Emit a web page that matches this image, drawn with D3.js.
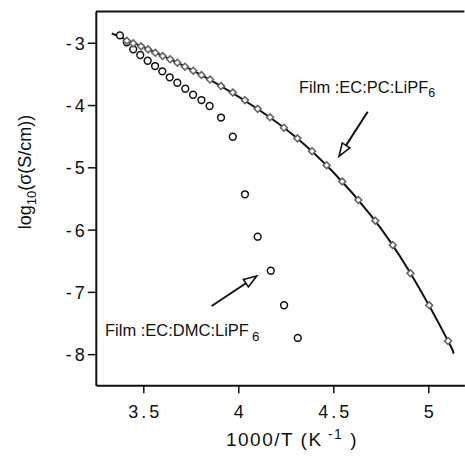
<!DOCTYPE html>
<html>
<head>
<meta charset="utf-8">
<script src="https://cdn.jsdelivr.net/npm/d3@7"></script>
<style>
  body { margin: 0; background: #fff; }
  text { font-family: "Liberation Sans", Arial, sans-serif; fill: #111; }
</style>
</head>
<body>
<div id="chart"></div>
<script>
// data: x = 1000/T, y = log10(sigma)
var pcX = [3.413, 3.447, 3.488, 3.525, 3.563, 3.602, 3.641, 3.679, 3.719, 3.763, 3.806, 3.851,
  3.909, 3.971, 4.035, 4.102, 4.167, 4.240, 4.311, 4.388, 4.465, 4.547, 4.632, 4.721, 4.813,
  4.906, 5.005, 5.104];
var pcY = [-2.968, -3.010, -3.058, -3.106, -3.161, -3.213, -3.266, -3.321, -3.385, -3.449, -3.518, -3.591,
  -3.695, -3.799, -3.923, -4.061, -4.197, -4.364, -4.535, -4.742, -4.966, -5.228, -5.525, -5.857, -6.250,
  -6.701, -7.215, -7.788];

var dmcX = [3.377, 3.413, 3.447, 3.484, 3.523, 3.562, 3.600, 3.639, 3.679, 3.721, 3.762, 3.806,
  3.849, 3.909, 3.971, 4.035, 4.102, 4.171, 4.241, 4.313];
var dmcY = [-2.881, -2.994, -3.106, -3.197, -3.289, -3.374, -3.459, -3.555, -3.642, -3.738, -3.835, -3.920,
  -4.016, -4.201, -4.509, -5.433, -6.114, -6.660, -7.215, -7.740];

// fitted curve for the EC:PC film
var fitX = [3.334, 3.5, 3.7, 3.9, 4.1, 4.3, 4.5, 4.7, 4.9, 5.1, 5.128];
var fitY = [-2.85, -3.07, -3.35, -3.68, -4.06, -4.51, -5.08, -5.78, -6.67, -7.765, -7.97];

var xTicks = [3.5, 4, 4.5, 5];
var yTicks = [-3, -4, -5, -6, -7, -8];

var svgWidth = 465;
var svgHeight = 467;

var svg = d3.select("#chart")
  .append("svg")
  .attr("width", svgWidth)
  .attr("height", svgHeight);

var x = d3.scaleLinear().domain([3.25, 5.19]).range([95.8, 464.4]);
var y = d3.scaleLinear().domain([-8.5, -2.5]).range([385.3, 11.6]);

// axes
var bottomAxis = d3.axisBottom(x).tickValues(xTicks).tickSize(8).tickSizeOuter(0)
  .tickFormat(d3.format("~g"));
var leftAxis = d3.axisLeft(y).tickValues(yTicks).tickSize(8).tickSizeOuter(0)
  .tickFormat(d => "-" + Math.abs(d));

var xAxis = svg.append("g")
  .attr("transform", `translate(0, ${y(-8.5)})`)
  .call(bottomAxis);
var yAxis = svg.append("g")
  .attr("transform", `translate(${x(3.25)}, 0)`)
  .call(leftAxis);

[xAxis, yAxis].forEach(function(g) {
  g.select(".domain").attr("stroke", "#111").attr("stroke-width", 2);
  g.selectAll(".tick line").attr("stroke", "#111").attr("stroke-width", 1.5);
  g.selectAll(".tick text")
    .attr("font-size", "18px")
    .attr("letter-spacing", "3px")
    .attr("font-family", "Liberation Sans, Arial, sans-serif")
    .attr("fill", "#111");
});
xAxis.selectAll(".tick text").attr("dy", "0").attr("y", 33).attr("dx", "1.5px");
yAxis.selectAll(".tick text").attr("x", -8).attr("dy", "0.36em");

// top frame line (no right side)
svg.append("line")
  .attr("x1", x(3.25)).attr("x2", x(5.19))
  .attr("y1", y(-2.5)).attr("y2", y(-2.5))
  .attr("stroke", "#111").attr("stroke-width", 2);

// axis titles
var xTitle = svg.append("text")
  .attr("x", 292).attr("y", 446)
  .attr("text-anchor", "middle")
  .attr("letter-spacing", "1.5px")
  .attr("font-size", "19px");
xTitle.append("tspan").text("1000/T  (K");
xTitle.append("tspan").attr("dy", -7).attr("font-size", "14px").text(" -1");
xTitle.append("tspan").attr("dy", 7).text(" )");

var yTitle = svg.append("text")
  .attr("transform", "translate(31, 172) rotate(-90)")
  .attr("text-anchor", "middle")
  .attr("font-size", "18px");
yTitle.append("tspan").text("log");
yTitle.append("tspan").attr("dy", 5).attr("font-size", "13px").text("10");
yTitle.append("tspan").attr("dy", -5).text("(σ(S/cm))");

// fit line
var line = d3.line()
  .x(d => x(d[0]))
  .y(d => y(d[1]))
  .curve(d3.curveNatural);

svg.append("path")
  .datum(d3.zip(fitX, fitY))
  .attr("d", line)
  .attr("fill", "none")
  .attr("stroke", "#111")
  .attr("stroke-width", 2);

// EC:DMC circles
svg.selectAll("circle.dmc")
  .data(d3.zip(dmcX, dmcY))
  .enter()
  .append("circle")
  .attr("class", "dmc")
  .attr("cx", d => x(d[0]))
  .attr("cy", d => y(d[1]))
  .attr("r", 3.4)
  .attr("fill", "white")
  .attr("stroke", "#111")
  .attr("stroke-width", 1.5);

// EC:PC diamonds
var diamond = d3.symbol().type(d3.symbolDiamond2).size(30);
svg.selectAll("path.pc")
  .data(d3.zip(pcX, pcY))
  .enter()
  .append("path")
  .attr("class", "pc")
  .attr("d", diamond)
  .attr("transform", d => `translate(${x(d[0])}, ${y(d[1])})`)
  .attr("fill", "white")
  .attr("stroke", "#666")
  .attr("stroke-width", 1.6);

// labels
var pcLabel = svg.append("text")
  .attr("x", 299).attr("y", 93)
  .attr("font-size", "16.5px");
pcLabel.append("tspan").text("Film :EC:PC:LiPF");
pcLabel.append("tspan").attr("dy", 4).attr("font-size", "12.5px").text("6");

var dmcLabel = svg.append("text")
  .attr("x", 105).attr("y", 336)
  .attr("font-size", "16.5px");
dmcLabel.append("tspan").text("Film :EC:DMC:LiPF");
dmcLabel.append("tspan").attr("dx", 3).attr("dy", 5).attr("font-size", "13.5px").text("6");

// arrows with open heads
function arrow(x1, y1, x2, y2) {
  var ang = Math.atan2(y2 - y1, x2 - x1);
  var len = 13, half = 4.5;
  var bx = x2 - len * Math.cos(ang), by = y2 - len * Math.sin(ang);
  svg.append("line")
    .attr("x1", x1).attr("y1", y1).attr("x2", bx).attr("y2", by)
    .attr("stroke", "#111").attr("stroke-width", 2);
  var pts = [
    [x2, y2],
    [bx + half * Math.sin(ang), by - half * Math.cos(ang)],
    [bx - half * Math.sin(ang), by + half * Math.cos(ang)]
  ];
  svg.append("polygon")
    .attr("points", pts.map(p => p.join(",")).join(" "))
    .attr("fill", "white")
    .attr("stroke", "#111")
    .attr("stroke-width", 1.6);
}
arrow(367.7, 111.7, 339, 156.3);
arrow(211.7, 306, 256.7, 276);
</script>
</body>
</html>
